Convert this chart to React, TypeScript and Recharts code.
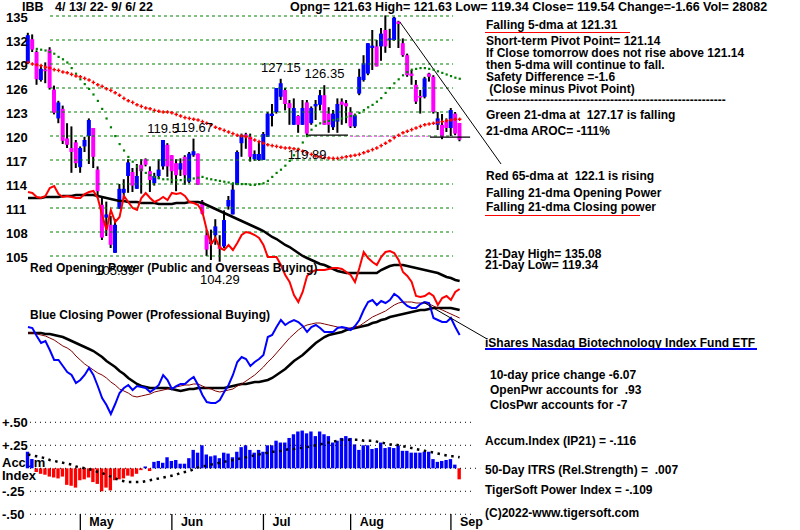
import React from "react";
import {
  ComposedChart,
  Bar,
  Line,
  XAxis,
  YAxis,
  ReferenceLine,
  ReferenceDot,
  Cell,
} from "recharts";

const FONT = '"Liberation Sans", Arial, sans-serif';

// IBB daily bars 4/13/22 .. 9/6/22 (index 0..99)
const openP = [
  129.1, 132.1, 130.5, 127.0, 128.3, 130.8, 125.8, 122.2, 123.4, 119.7,
  118.5, 119.2, 116.1, 118.7, 120.0, 121.0, 115.8, 111.4, 109.8, 108.9,
  105.4, 110.9, 112.9, 115.0, 115.5, 113.4, 116.4, 117.1, 115.6, 114.1,
  115.0, 116.2, 118.9, 117.6, 116.6, 115.8, 117.4, 114.3, 117.6, 117.8,
  111.8, 107.6, 106.5, 107.6, 106.2, 106.2, 111.2, 110.2, 113.9, 119.1,
  120.2, 119.9, 117.1, 117.0, 117.0, 119.9, 122.5, 123.0, 124.9, 125.75,
  124.1, 121.4, 122.5, 121.4, 124.2, 121.6, 123.7, 123.9, 125.1, 122.8,
  121.1, 121.8, 124.3, 124.1, 123.0, 121.2, 125.3, 127.0, 127.8, 131.0,
  131.2, 131.2, 133.25, 132.0, 132.0, 134.3, 131.6, 130.1, 127.8, 126.4,
  125.0, 124.9, 127.8, 127.4, 121.4, 121.4, 121.8, 121.0, 122.8, 121.63,
];
const highP = [
  132.9, 132.7, 130.7, 128.9, 129.2, 131.1, 126.3, 124.4, 123.8, 121.6,
  121.2, 119.5, 118.7, 119.9, 122.2, 121.0, 116.2, 112.3, 111.8, 110.0,
  109.6, 114.0, 114.6, 117.1, 116.0, 116.5, 117.1, 117.2, 116.2, 115.4,
  117.1, 119.5, 119.1, 117.6, 117.1, 117.2, 117.6, 118.0, 119.67, 117.8,
  112.0, 108.3, 108.3, 109.6, 107.6, 110.7, 112.5, 114.1, 118.2, 120.3,
  120.4, 120.3, 118.2, 119.3, 120.5, 123.0, 124.0, 126.0, 127.15, 126.0,
  124.5, 124.7, 122.6, 124.5, 124.5, 123.7, 124.5, 125.75, 126.35, 123.6,
  123.25, 124.7, 124.7, 124.5, 123.6, 122.8, 128.4, 130.1, 131.6, 133.25,
  132.0, 133.5, 135.08, 133.4, 134.9, 134.4, 132.2, 130.3, 128.25, 127.0,
  125.75, 127.4, 127.9, 127.6, 123.0, 122.75, 122.2, 123.5, 123.0, 121.63,
];
const lowP = [
  129.0, 130.5, 126.4, 126.8, 126.6, 125.8, 122.7, 121.6, 119.0, 118.5,
  115.4, 116.0, 115.4, 118.0, 116.5, 116.0, 112.4, 107.0, 107.5, 106.0,
  105.39, 110.9, 112.1, 112.9, 113.0, 113.4, 112.8, 116.2, 113.0, 113.8,
  114.6, 115.8, 114.9, 114.1, 113.1, 115.0, 113.9, 114.1, 117.4, 113.9,
  110.2, 105.0, 104.5, 106.4, 104.29, 106.0, 110.8, 110.2, 113.9, 117.4,
  118.4, 116.8, 116.9, 116.9, 117.0, 119.9, 121.2, 122.8, 124.5, 123.2,
  121.4, 121.4, 120.4, 121.4, 119.89, 121.4, 122.0, 123.2, 121.4, 120.4,
  120.75, 120.4, 121.4, 121.6, 121.0, 121.0, 125.1, 126.8, 127.6, 128.25,
  128.7, 129.4, 130.4, 131.0, 131.9, 131.0, 129.9, 127.4, 126.4, 124.0,
  122.8, 124.7, 126.8, 122.8, 120.75, 119.6, 120.5, 120.0, 120.1, 119.34,
];
const closeP = [
  132.6, 130.8, 127.1, 128.4, 128.1, 126.0, 122.9, 124.2, 119.4, 118.9,
  118.0, 116.6, 118.5, 119.5, 122.0, 117.4, 113.1, 107.3, 110.2, 106.4,
  108.9, 113.4, 113.4, 116.7, 113.8, 115.0, 115.6, 116.4, 114.5, 115.0,
  115.8, 119.5, 116.2, 115.6, 115.1, 116.6, 115.1, 117.8, 118.1, 113.9,
  110.3, 105.8, 106.8, 108.7, 105.9, 109.5, 112.0, 113.3, 118.0, 120.1,
  119.9, 117.4, 117.75, 117.75, 120.25, 122.8, 122.8, 126.0, 126.6, 124.0,
  123.5, 123.5, 121.4, 123.5, 120.3, 123.5, 124.0, 125.1, 121.4, 121.4,
  122.8, 124.0, 123.9, 123.7, 121.2, 122.6, 127.4, 129.1, 131.6, 131.3,
  128.7, 132.8, 131.2, 132.2, 134.8, 134.0, 130.1, 127.6, 127.5, 124.3,
  124.8, 127.2, 127.4, 123.0, 122.2, 119.9, 121.0, 123.25, 120.3, 119.54,
];
// red 65-dma and green 21-dma
const ma65 = [
  129.2, 129.0, 128.9, 128.8, 128.6, 128.5, 128.3, 128.2, 128.0, 127.9,
  127.7, 127.5, 127.4, 127.2, 127.0, 126.7, 126.4, 126.2, 125.9, 125.7,
  125.4, 125.1, 124.7, 124.4, 124.2, 123.9, 123.7, 123.5, 123.4, 123.2,
  123.1, 123.0, 123.0, 122.9, 122.7, 122.5, 122.3, 122.2, 122.1, 122.0,
  121.8, 121.6, 121.4, 121.1, 120.9, 120.7, 120.5, 120.3, 120.1, 120.0,
  119.9, 119.7, 119.5, 119.3, 119.1, 118.9, 118.8, 118.7, 118.6, 118.5,
  118.5, 118.4, 118.3, 118.1, 117.9, 117.7, 117.5, 117.4, 117.3, 117.25,
  117.2, 117.2, 117.3, 117.4, 117.5, 117.6, 117.7, 117.9, 118.1, 118.3,
  118.5, 118.8, 119.1, 119.4, 119.8, 120.1, 120.4, 120.6, 120.8, 121.0,
  121.2, 121.4, 121.5, 121.6, 121.7, 121.8, 121.9, 122.0, 122.1, 122.1,
];
const ma21 = [
  null, null, 130.9, 130.8, 130.7, 130.5, 130.3, 129.9, 129.6, 129.2,
  128.5, 127.8, 127.1, 126.5, 125.9, 125.2, 124.4, 123.4, 122.2, 121.1,
  120.0, 119.0, 118.2, 117.4, 116.8, 116.2, 115.8, 115.4, 115.1, 114.9,
  114.75, 114.6, 114.6, 114.5, 114.5, 114.5, 114.6, 114.6, 114.7, 114.8,
  114.9, 114.7, 114.6, 114.5, 114.4, 114.3, 114.2, 114.1, 114.0, 114.0,
  114.0, 113.9, 113.9, 114.0, 114.1, 114.4, 114.9, 115.4, 115.8, 116.3,
  116.9, 117.6, 118.4, 119.2, 120.0, 120.8, 121.3, 121.6, 121.8, 121.9,
  122.0, 122.1, 122.2, 122.4, 122.5, 122.6, 122.9, 123.25, 123.6, 123.9,
  124.3, 124.75, 125.4, 126.0, 126.6, 127.1, 127.6, 128.0, 128.3, 128.4,
  128.5, 128.5, 128.4, 128.3, 128.1, 127.9, 127.7, 127.5, 127.3, 127.17,
];
// red opening power and its black average (relative units)
const openPower = [
  108, 107, 103, 102, 104, 112, 114, 106, 103, 104,
  103, 102, 102, 106, 108, 109, 102, 85, 70, 90,
  78, 83, 104, 98, 92, 90, 102, 107, 102, 98,
  100, 103, 100, 107, 106, 107, 104, 98, 97, 95,
  88, 70, 56, 62, 52, 50, 55, 50, 57, 65,
  68, 67, 65, 62, 55, 43, 43, 43, 35, 25,
  18, 5, -2, 8, 24, 28, 30, 30, 30, 31,
  32, 32, 31, 28, 25, 18, 32, 48, 42, 38,
  35, 43, 48, 49, 47, 40, 28, 24, 18, 4,
  3, 4, 7, 4, -5, 2, 4, 0, 8, 11,
];
const openPowerMa = [
  102, 102, 102, 102, 103, 103, 103, 103, 104, 104,
  104, 105, 105, 105, 105, 105, 104, 103, 102, 101,
  100, 99, 99, 98, 98, 98, 97, 97, 97, 97,
  96, 96, 96, 96, 97, 97, 97, 98, 98, 98,
  97, 95, 93, 91, 89, 87, 85, 83, 81, 79,
  77, 75, 73, 71, 69, 66, 63, 61, 58, 55,
  53, 50, 47, 44, 42, 40, 38, 36, 35, 33,
  31, 29, 28, 27, 27, 27, 27, 27, 27, 27,
  27, 30, 32, 34, 35, 35, 35, 34, 33, 32,
  31, 30, 29, 28, 27, 25, 23, 22, 20, 19,
];
// blue closing power, dark red fast average, black slow average
const closePower = [
  103, 102, 94, 87, 89, 80, 70, 70, 64, 58,
  55, 47, 50, 55, 62, 55, 44, 32, 25, 16,
  26, 37, 42, 45, 40, 44, 43, 42, 38, 41,
  45, 55, 50, 41, 44, 46, 46, 50, 53, 45,
  35, 28, 27, 27, 30, 38, 45, 55, 68, 73,
  71, 64, 68, 71, 75, 93, 95, 103, 110, 105,
  108, 110, 108, 104, 98, 103, 105, 102, 98, 98,
  98, 102, 103, 102, 100, 104, 110, 120, 128, 130,
  125, 129, 127, 130, 136, 133, 128, 124, 122, 122,
  126, 128, 127, 112, 110, 108, 108, 112, 103, 95,
];
const closePowerFast = [
  97, 97, 96, 95, 94, 92, 90, 87, 84, 82,
  79, 74, 70, 66, 63, 60, 57, 55, 52, 48,
  45, 41, 39, 37, 34, 33, 34, 35, 36, 38,
  39, 40, 41, 42, 43, 44, 45, 45, 46, 46,
  44, 42, 41, 39, 38, 39, 40, 41, 44, 46,
  49, 52, 55, 59, 63, 68, 72, 77, 82, 87,
  92, 96, 100, 103, 105, 106, 107, 107, 106, 105,
  104, 103, 102, 102, 102, 103, 104, 107, 110, 113,
  115, 117, 119, 122, 125, 127, 128, 128, 128, 127,
  127, 127, 126, 124, 122, 120, 118, 116, 114, 112,
];
const closePowerSlow = [
  97, 97, 97, 97, 96, 96, 95, 94, 93, 91,
  89, 87, 85, 83, 81, 79, 76, 73, 69, 66,
  63, 59, 56, 52, 49, 46, 44, 43, 42, 42,
  42, 42, 42, 41, 40, 39, 40, 41, 41, 42,
  42, 42, 42, 42, 42, 42, 43, 44, 45, 46,
  46, 47, 48, 48, 49, 50, 52, 55, 58, 61,
  65, 69, 72, 75, 79, 83, 87, 90, 93, 95,
  96, 97, 98, 100, 101, 102, 103, 104, 105, 107,
  108, 110, 111, 113, 114, 115, 116, 117, 118, 119,
  120, 120, 121, 122, 122, 122, 122, 122, 121, 120,
];
// accumulation index (IP21) and its dotted average
const accum = [
  0.18, 0.10, -0.04, -0.06, -0.07, -0.09, -0.10, -0.11, -0.09, -0.18,
  -0.19, -0.21, -0.13, -0.12, -0.10, -0.15, -0.17, -0.25, -0.21, -0.24,
  -0.13, -0.12, -0.11, -0.08, -0.09, -0.06, -0.02, 0.02, -0.03, 0.07,
  0.08, 0.06, 0.12, 0.08, 0.09, 0.05, 0.05, 0.11, 0.20, 0.17,
  0.25, 0.15, 0.13, 0.14, 0.11, 0.17, 0.16, 0.12, 0.18, 0.23,
  0.25, 0.20, 0.17, 0.20, 0.18, 0.25, 0.25, 0.30, 0.28, 0.28,
  0.33, 0.37, 0.40, 0.41, 0.38, 0.40, 0.35, 0.40, 0.37, 0.35,
  0.28, 0.30, 0.33, 0.35, 0.33, 0.26, 0.20, 0.25, 0.25, 0.21,
  0.22, 0.28, 0.22, 0.23, 0.22, 0.25, 0.19, 0.19, 0.17, 0.17,
  0.17, 0.18, 0.18, 0.10, 0.07, 0.08, 0.09, 0.10, 0.04, -0.12,
];
const accumMa = [
  0.15, 0.14, 0.13, 0.12, 0.11, 0.09, 0.08, 0.07, 0.06, 0.05,
  0.04, 0.02, 0.01, 0.0, -0.01, -0.02, -0.04, -0.05, -0.07, -0.09,
  -0.11, -0.13, -0.14, -0.15, -0.15, -0.15, -0.15, -0.14, -0.13, -0.12,
  -0.11, -0.1, -0.09, -0.08, -0.07, -0.05, -0.04, -0.03, -0.01, 0.01,
  0.02, 0.03, 0.04, 0.05, 0.06, 0.07, 0.08, 0.09, 0.1, 0.11,
  0.12, 0.13, 0.14, 0.15, 0.16, 0.17, 0.18, 0.18, 0.19, 0.2,
  0.21, 0.21, 0.22, 0.22, 0.23, 0.24, 0.25, 0.26, 0.27, 0.28,
  0.29, 0.3, 0.31, 0.31, 0.31, 0.31, 0.31, 0.3, 0.3, 0.3,
  0.29, 0.28, 0.27, 0.26, 0.26, 0.25, 0.24, 0.23, 0.22, 0.21,
  0.2, 0.19, 0.18, 0.17, 0.16, 0.15, 0.14, 0.13, 0.13, 0.12,
];

const priceTicks = [105, 108, 111, 114, 117, 120, 123, 126, 129, 132, 135];
const accTicks = [0.5, 0.25, -0.25, -0.5];
const accTickLabels = ["+.50", "+.25", "-.25", "-.50"];
const accGrid = [0.5, 0.25, 0, -0.25, -0.5];
const months = ["May", "Jun", "Jul", "Aug", "Sep"];
const monthStart = [12, 33, 54, 74, 97];
const highLabels = [31, 38, 58, 68];
const lowLabels = [20, 44, 64];

const rows = openP.map((o, i) => ({
  i,
  open: o,
  high: highP[i],
  low: lowP[i],
  close: closeP[i],
  range: [lowP[i], highP[i]],
  ma65: ma65[i],
  ma21: ma21[i],
  op: openPower[i],
  opMa: openPowerMa[i],
  cp: closePower[i],
  cpFast: closePowerFast[i],
  cpSlow: closePowerSlow[i],
  acc: accum[i],
  accMa: accumMa[i],
}));

const X_DOMAIN: [number, number] = [-6.42, 177.06];

// eslint-disable-next-line @typescript-eslint/no-explicit-any
const Candle = (props: any) => {
  const { x, y, width, height, payload } = props;
  if (x == null || height == null) return <g />;
  const cx = x + width / 2;
  const k = height / (payload.high - payload.low || 1);
  const top = y + (payload.high - Math.max(payload.open, payload.close)) * k;
  const bh = Math.max(Math.abs(payload.open - payload.close) * k, 1.5);
  const up = payload.close >= payload.open;
  return (
    <g>
      <rect x={cx - 1} y={y} width={2} height={Math.max(height, 1)} fill="#000" />
      <rect x={cx - 2} y={top} width={4} height={bh} fill={up ? "#0000ff" : "#ff00ff"} />
    </g>
  );
};

// eslint-disable-next-line @typescript-eslint/no-explicit-any
const PlusDot = (p: any) =>
  p.cy == null ? (
    <g key={p.index} />
  ) : (
    <path
      key={p.index}
      d={`M${p.cx - 1.8},${p.cy}h3.6M${p.cx},${p.cy - 1.8}v3.6`}
      stroke="#ff0000"
      strokeWidth={1.4}
    />
  );

// eslint-disable-next-line @typescript-eslint/no-explicit-any
const GreenDot = (p: any) =>
  p.cy == null ? (
    <g key={p.index} />
  ) : (
    <rect key={p.index} x={p.cx - 1} y={p.cy - 1} width={2.2} height={2.2} fill="#008000" />
  );

// eslint-disable-next-line @typescript-eslint/no-explicit-any
const PriceTick = ({ y, payload }: any) => (
  <text x={6} y={y + 6} fontFamily={FONT} fontSize={13} fontWeight="bold" fill="#000">
    {payload.value}
  </text>
);

// eslint-disable-next-line @typescript-eslint/no-explicit-any
const AccTick = ({ y, payload }: any) => (
  <text x={2} y={y + 5} fontFamily={FONT} fontSize={13} fontWeight="bold" fill="#000">
    {accTickLabels[accTicks.indexOf(payload.value)]}
  </text>
);

// eslint-disable-next-line @typescript-eslint/no-explicit-any
const MonthTick = ({ x, payload }: any) => (
  <g>
    <line x1={x} x2={x} y1={514} y2={530} stroke="#000" strokeWidth={1.3} />
    <text x={x + 9} y={526} fontFamily={FONT} fontSize={12.5} fontWeight="bold" fill="#000">
      {months[monthStart.indexOf(payload.value)]}
    </text>
  </g>
);

const Txt = ({
  x,
  y,
  size = 12,
  children,
}: {
  x: number;
  y: number;
  size?: number;
  children: React.ReactNode;
}) => (
  <div
    style={{
      position: "absolute",
      left: x,
      top: y,
      fontSize: size,
      fontWeight: 700,
      fontFamily: FONT,
      lineHeight: 1,
      whiteSpace: "pre",
      color: "#000",
    }}
  >
    {children}
  </div>
);

const Rule = ({ x, y, w, h, c }: { x: number; y: number; w: number; h: number; c: string }) => (
  <div style={{ position: "absolute", left: x, top: y, width: w, height: h, background: c }} />
);

export default function App() {
  const labelStyle = { fontSize: 13, fill: "#000", fontFamily: FONT };
  return (
    <div
      style={{
        position: "absolute",
        left: 0,
        top: 0,
        width: 800,
        height: 530,
        background: "#fff",
        overflow: "hidden",
      }}
    >
      <Txt x={2} y={456} size={13}>Accum</Txt>
      <Txt x={2} y={468.5} size={13}>Index</Txt>
      <div style={{ position: "absolute", left: 0, top: 0 }}>
        <ComposedChart width={800} height={530} data={rows} margin={{ top: 0, right: 0, bottom: -1, left: -2 }}>
          <XAxis
            xAxisId="x"
            type="number"
            dataKey="i"
            domain={X_DOMAIN}
            allowDataOverflow
            height={1}
            ticks={monthStart}
            interval={0}
            axisLine={false}
            tickLine={false}
            tick={<MonthTick />}
          />
          <XAxis xAxisId="x2" type="number" dataKey="i" domain={X_DOMAIN} allowDataOverflow hide />
          <YAxis
            yAxisId="p"
            domain={[70.75, 137]}
            allowDataOverflow
            width={1}
            ticks={priceTicks}
            interval={0}
            axisLine={false}
            tickLine={false}
            tick={<PriceTick />}
          />
          <YAxis yAxisId="op" domain={[-230, 300]} allowDataOverflow hide />
          <YAxis yAxisId="cp" domain={[-100, 430]} allowDataOverflow hide />
          <YAxis
            yAxisId="a"
            domain={[-0.6707, 5.0902]}
            allowDataOverflow
            width={1}
            ticks={accTicks}
            interval={0}
            axisLine={false}
            tickLine={false}
            tick={<AccTick />}
          />

          {priceTicks.map((p) => (
            <ReferenceLine
              key={`g${p}`}
              xAxisId="x"
              yAxisId="p"
              segment={[{ x: 5.05, y: p }, { x: 97.5, y: p }]}
              stroke="#008000"
              strokeDasharray="3 3"
            />
          ))}
          {accGrid.map((v) => (
            <ReferenceLine
              key={`a${v}`}
              xAxisId="x"
              yAxisId="a"
              segment={[{ x: 0.46, y: v }, { x: v === 0 ? 103.7 : 101.8, y: v }]}
              stroke="#000"
              strokeDasharray="1 4"
            />
          ))}

          <Bar
            xAxisId="x"
            yAxisId="p"
            dataKey="range"
            barSize={4}
            shape={<Candle />}
            isAnimationActive={false}
          />

          <ReferenceLine xAxisId="x" yAxisId="p" segment={[{ x: 63.9, y: 120.1 }, { x: 73.4, y: 120.1 }]} stroke="#000" strokeWidth={1.3} />
          <ReferenceLine xAxisId="x" yAxisId="p" segment={[{ x: 73.9, y: 119.95 }, { x: 92.5, y: 119.95 }]} stroke="#ff66ff" strokeWidth={1.3} strokeDasharray="2 2" />
          <ReferenceLine xAxisId="x" yAxisId="p" segment={[{ x: 92.2, y: 119.85 }, { x: 101.4, y: 119.85 }]} stroke="#000" strokeWidth={1.3} />

          <Line xAxisId="x" yAxisId="p" dataKey="ma21" stroke="none" dot={<GreenDot />} activeDot={false} isAnimationActive={false} />
          <Line xAxisId="x" yAxisId="p" dataKey="ma65" stroke="none" dot={<PlusDot />} activeDot={false} isAnimationActive={false} />

          <Line xAxisId="x" yAxisId="op" dataKey="opMa" stroke="#000" strokeWidth={2.5} dot={false} activeDot={false} isAnimationActive={false} />
          <Line xAxisId="x" yAxisId="op" dataKey="op" stroke="#ff0000" strokeWidth={2} dot={false} activeDot={false} isAnimationActive={false} />

          <Line xAxisId="x" yAxisId="cp" dataKey="cpSlow" stroke="#000" strokeWidth={2.5} dot={false} activeDot={false} isAnimationActive={false} />
          <Line xAxisId="x" yAxisId="cp" dataKey="cpFast" stroke="#800000" strokeWidth={1} dot={false} activeDot={false} isAnimationActive={false} />
          <Line xAxisId="x" yAxisId="cp" dataKey="cp" stroke="#0000ff" strokeWidth={2} dot={false} activeDot={false} isAnimationActive={false} />

          <Bar xAxisId="x2" yAxisId="a" dataKey="acc" barSize={3.4} isAnimationActive={false}>
            {rows.map((r) => (
              <Cell key={r.i} fill={r.acc >= 0 ? "#0000ff" : "#ff0000"} />
            ))}
          </Bar>
          <Line xAxisId="x" yAxisId="a" dataKey="accMa" stroke="#000" strokeWidth={2.5} strokeDasharray="2.5 4.5" dot={false} activeDot={false} isAnimationActive={false} />

          <ReferenceLine xAxisId="x" yAxisId="p" segment={[{ x: 85.3, y: 134.25 }, { x: 108.5, y: 116.5 }]} stroke="#000" strokeWidth={1} />
          <ReferenceLine xAxisId="x" yAxisId="cp" segment={[{ x: 90.6, y: 128 }, { x: 105.3, y: 91 }]} stroke="#000" strokeWidth={1} />

          {highLabels.map((i) => (
            <ReferenceDot
              key={`h${i}`}
              xAxisId="x"
              yAxisId="p"
              x={i}
              y={highP[i]}
              r={0}
              fill="none"
              stroke="none"
              label={{ value: String(highP[i]), position: "top", offset: 7, ...labelStyle }}
            />
          ))}
          {lowLabels.map((i) => (
            <ReferenceDot
              key={`l${i}`}
              xAxisId="x"
              yAxisId="p"
              x={i}
              y={lowP[i]}
              r={0}
              fill="none"
              stroke="none"
              label={{ value: String(lowP[i]), position: "bottom", offset: 13, ...labelStyle }}
            />
          ))}
        </ComposedChart>
      </div>

      <Txt x={22} y={1} size={12.5}>IBB</Txt>
      <Txt x={55} y={1} size={12.5}>4/ 13/ 22- 9/ 6/ 22</Txt>
      <Txt x={290} y={0.5} size={12.5}>Opng= 121.63 High= 121.63 Low= 119.34 Close= 119.54 Change=-1.66 Vol= 28082</Txt>

      <Txt x={486} y={19}>Falling 5-dma at 121.31</Txt>
      <Rule x={485} y={31.5} w={145} h={1.5} c="#ff0000" />
      <Txt x={486} y={35}>Short-term Pivot Point= 121.14</Txt>
      <Txt x={486} y={47}>If Close tomorrow does not rise above 121.14</Txt>
      <Txt x={486} y={58.5}>then 5-dma will continue to fall.</Txt>
      <Txt x={486} y={71}>Safety Difference =-1.6</Txt>
      <Txt x={486} y={83}> (Close minus Pivot Point)</Txt>
      <Txt x={486} y={94}>------------------------------------------------------------</Txt>
      <Txt x={486} y={108.5}>Green 21-dma at  127.17 is falling</Txt>
      <Txt x={486} y={124.5}>21-dma AROC= -111%</Txt>
      <Txt x={486} y={170}>Red 65-dma at  122.1 is rising</Txt>
      <Txt x={486} y={186.5}>Falling 21-dma Opening Power</Txt>
      <Txt x={486} y={201}>Falling 21-dma Closing power</Txt>
      <Rule x={485} y={214.5} w={155} h={1.5} c="#ff0000" />
      <Txt x={485} y={247.7}>21-Day High= 135.08</Txt>
      <Txt x={485} y={259}>21-Day Low= 119.34</Txt>
      <Txt x={485} y={336.7}>iShares Nasdaq Biotechnology Index Fund ETF</Txt>
      <Rule x={485} y={347.5} w={272} h={2} c="#0000ff" />
      <Txt x={490} y={369}>10-day price change -6.07</Txt>
      <Txt x={490} y={384}>OpenPwr accounts for  .93</Txt>
      <Txt x={490} y={398.5}>ClosPwr accounts for -7</Txt>
      <Txt x={485} y={435}>Accum.Index (IP21) = -.116</Txt>
      <Txt x={485} y={464}>50-Day ITRS (Rel.Strength) =  .007</Txt>
      <Txt x={485} y={484}>TigerSoft Power Index = -.109</Txt>
      <Txt x={485} y={507}>(C)2022-www.tigersoft.com</Txt>

      <Txt x={30} y={262}>Red Opening Power (Public and Overseas Buying)</Txt>
      <Txt x={30} y={309}>Blue Closing Power (Professional Buying)</Txt>
    </div>
  );
}
